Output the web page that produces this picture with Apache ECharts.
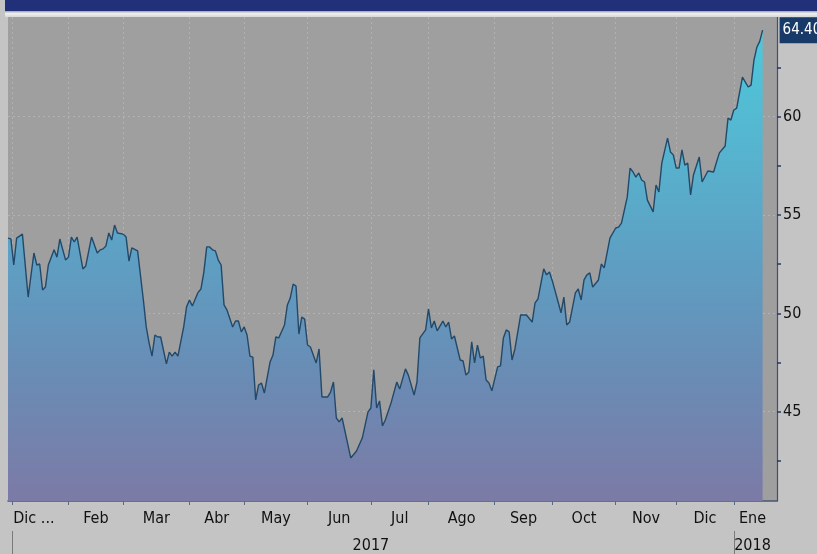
<!DOCTYPE html>
<html><head><meta charset="utf-8">
<script src="https://cdn.jsdelivr.net/npm/echarts@6/dist/echarts.min.js"></script>
<style>html,body{margin:0;padding:0;background:#c4c4c4}#c{width:817px;height:554px}</style>
</head><body><div id="c"></div>
<script>
// trading-day index (0 = last days of Dec 2016)
const days = [0,1,2,3,5,7,9,10,11,12,13,14,16,17,18,20,21,22,23,24,26,27,29,31,32,33,34,35,36,37,38,40,41,42,43,45,47,48,49,50,51,52,53,55,56,57,58,59,61,62,63,64,66,67,
68,69,70,71,72,73,74,75,76,78,79,80,81,82,83,84,85,86,87,88,89,91,92,93,94,96,97,98,99,100,101,102,103,104,105,107,108,109,111,112,113,114,115,116,119,121,123,125,126,127,128,129,130,131,
133,135,136,138,139,141,142,143,145,146,147,148,149,151,152,153,154,155,157,158,159,160,161,162,163,164,165,166,167,168,170,171,172,173,174,175,176,178,180,182,183,184,186,187,188,189,191,192,193,194,195,197,198,199,
200,201,202,203,205,206,207,209,211,212,213,215,216,217,218,219,220,221,222,224,225,226,227,229,230,231,232,233,234,235,236,237,238,240,241,243,245,246,247,249,250,251,252,253,255,257,258,259,260,261,262];
const prices = [53.83,53.79,52.46,53.83,54.03,50.83,53.07,52.46,52.51,51.19,51.34,52.46,53.23,52.86,53.78,52.71,52.86,53.88,53.63,53.88,52.26,52.41,53.88,53.07,53.23,53.28,53.43,54.09,53.73,54.49,54.09,54.03,53.88,52.66,53.33,53.18,50.68,49.31,48.49,47.83,48.90,48.80,48.80,47.43,48.03,47.83,48.03,47.83,49.31,50.33,50.68,50.38,51.07,51.24,
52.10,53.38,53.38,53.23,53.18,52.71,52.46,50.43,50.18,49.31,49.61,49.61,49.06,49.31,48.90,47.83,47.78,45.60,46.36,46.46,45.95,47.53,47.88,48.80,48.75,49.41,50.43,50.78,51.49,51.39,48.95,49.81,49.71,48.39,48.29,47.48,48.19,45.75,45.75,46.00,46.51,44.68,44.48,44.68,42.65,43.00,43.66,44.99,45.19,47.13,45.19,45.55,44.28,44.58,
45.45,46.51,46.15,47.18,46.86,45.85,46.51,48.75,49.16,50.23,49.26,49.61,49.11,49.61,49.31,49.56,48.70,48.85,47.63,47.58,46.86,47.02,48.55,47.48,48.39,47.73,47.83,46.61,46.46,46.06,47.28,47.33,48.75,49.16,49.06,47.63,48.19,49.92,49.92,49.56,50.53,50.73,52.26,51.96,52.10,51.65,50.58,50.03,50.83,49.41,49.56,51.04,51.24,50.68,
51.70,51.96,52.06,51.34,51.70,52.51,52.31,53.83,54.34,54.39,54.59,55.91,57.39,57.19,56.93,57.14,56.78,56.68,55.76,55.16,56.53,56.17,57.64,58.91,58.21,58.06,57.39,57.39,58.31,57.54,57.64,56.02,57.04,57.95,56.68,57.24,57.19,57.69,58.16,58.51,59.93,59.83,60.34,60.44,62.01,61.51,61.61,62.88,63.53,63.83,64.40];
const monthStarts = [1.5,21,40,63,82,104,126,146,169,189,211,232,252];
const monthLabelDays = [9,30.5,51.5,72.5,93,115,136,157.5,179,200,221.5,242,258.5];
const monthLabels = ['Dic ...','Feb','Mar','Abr','May','Jun','Jul','Ago','Sep','Oct','Nov','Dic','Ene'];
const yearBounds = [1.5,252];
const yearLabelDays = [126,258.5];
const yearLabels = ['2017','2018'];
const yTicks = [45,50,55,60];
const yAllTicks = [42.5,45,47.5,50,52.5,55,57.5,60,62.5];

const font = "'Liberation Sans Narrow','DejaVu Sans Condensed',sans-serif";
const X_MIN = 0, X_MAX = 267, Y_MIN = 40.46, Y_MAX = 65.07;
const chart = echarts.init(document.getElementById('c'), null, {renderer:'canvas'});
chart.setOption({
  backgroundColor:'#c4c4c4',
  animation:false,
  graphic:[
    {type:'rect', shape:{x:5,y:0,width:812,height:11}, style:{fill:'#22307a'}, z:100},
    {type:'rect', shape:{x:5,y:11,width:812,height:6}, style:{fill:{type:'linear',x:0,y:0,x2:0,y2:1,colorStops:[{offset:0,color:'#9aa0b8'},{offset:0.4,color:'#eeeeee'},{offset:1,color:'#d8d8d8'}]}}, z:100}
  ],
  grid:{left:8,right:40,top:17,bottom:53,show:true,backgroundColor:'#9f9f9f',borderWidth:0},
  xAxis:[
    {type:'value',min:X_MIN,max:X_MAX,position:'bottom',
     axisLine:{show:true,onZero:false,lineStyle:{color:'#46566f',width:1.5}},
     axisTick:{show:true,customValues:monthStarts,length:4,lineStyle:{color:'#5a6a80'}},
     axisLabel:{show:true,customValues:monthLabelDays,formatter:v=>monthLabels[monthLabelDays.indexOf(v)],margin:10,color:'#111',fontFamily:font,fontSize:16},
     splitLine:{show:true,lineStyle:{color:'#b2b2b2',type:[2,3],width:1}}},
    {type:'value',min:X_MIN,max:X_MAX,position:'bottom',offset:30,
     axisLine:{show:false,onZero:false},
     axisTick:{show:true,customValues:yearBounds,length:23,lineStyle:{color:'#7a7a7a'}},
     axisLabel:{show:true,customValues:yearLabelDays,formatter:v=>yearLabels[yearLabelDays.indexOf(v)],margin:7,color:'#111',fontFamily:font,fontSize:16},
     splitLine:{show:false}}
  ],
  yAxis:[
    {type:'value',position:'right',min:Y_MIN,max:Y_MAX,
     axisLine:{show:true,onZero:false,lineStyle:{color:'#3c5272',width:1.2}},
     axisTick:{show:true,customValues:yAllTicks,length:4,lineStyle:{color:'#1f3a66',width:1.5}},
     axisLabel:{show:true,customValues:yTicks,margin:6,color:'#111',fontFamily:font,fontSize:16},
     splitLine:{show:false}},
    {type:'value',min:Y_MIN,max:Y_MAX,
     axisLine:{show:false,onZero:false},
     axisTick:{show:false,customValues:yTicks},
     axisLabel:{show:false},
     splitLine:{show:true,lineStyle:{color:'#b2b2b2',type:[2,3],width:1}}}
  ],
  series:[{
    type:'line',xAxisIndex:0,yAxisIndex:0,
    data:days.map((d,i)=>[d,prices[i]]),
    symbol:'none',
    lineStyle:{color:'#22496a',width:1.4},
    areaStyle:{opacity:1,color:{type:'linear',x:0,y:17,x2:0,y2:501,global:true,colorStops:[
      {offset:0,color:'#4ccbdc'},{offset:0.25,color:'#55b6d0'},{offset:0.5,color:'#5e9fc3'},{offset:0.75,color:'#6a8bb4'},{offset:1,color:'#7c7aa6'}]}},
    endLabel:{show:true,formatter:p=>p.value[1].toFixed(2),offset:[9,0],color:'#fff',backgroundColor:'#173a68',padding:[6,2,5,3],fontFamily:font,fontSize:15}
  }]
});
</script></body></html>
